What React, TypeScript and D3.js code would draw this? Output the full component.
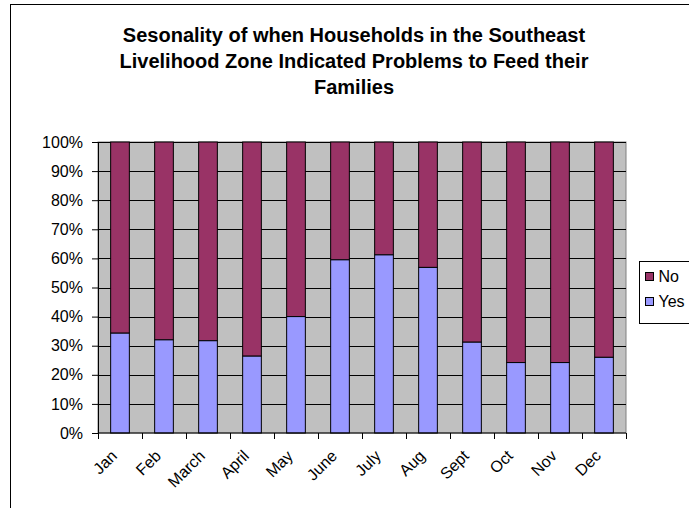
import React, { useEffect, useRef } from "react";
import * as d3 from "d3";

const months = ["Jan", "Feb", "March", "April", "May", "June", "July", "Aug", "Sept", "Oct", "Nov", "Dec"];
const yesValues = [34.3, 32.0, 31.7, 26.4, 40.0, 59.5, 61.2, 56.9, 31.2, 24.2, 24.2, 26.0];
const yTicks = [0, 10, 20, 30, 40, 50, 60, 70, 80, 90, 100];
const titleLines = [
  "Sesonality of when Households in the Southeast",
  "Livelihood Zone Indicated Problems to Feed their",
  "Families",
];
const legendItems = [
  { label: "No", color: "#993366" },
  { label: "Yes", color: "#9999FF" },
];

const font = "Arial, 'Liberation Sans', sans-serif";

export default function App() {
  const ref = useRef<SVGSVGElement>(null);

  useEffect(() => {
    const svg = d3.select(ref.current);
    svg.selectAll("*").remove();

    const width = 689;
    const height = 508;
    const margin = { top: 142, right: 63, bottom: 75, left: 98 };

    // outer chart frame (runs off the right/bottom edge)
    svg
      .append("rect")
      .attr("x", 10.5)
      .attr("y", 4.5)
      .attr("width", 720)
      .attr("height", 600)
      .attr("fill", "white")
      .attr("stroke", "black");

    const x = d3
      .scaleBand()
      .domain(months)
      .range([margin.left, width - margin.right])
      .paddingInner(0.575)
      .paddingOuter(0.2875);

    const y = d3
      .scaleLinear()
      .domain([0, 100])
      .range([height - margin.bottom, margin.top]);

    // plot background
    svg
      .append("rect")
      .attr("x", margin.left)
      .attr("y", margin.top)
      .attr("width", width - margin.right - margin.left)
      .attr("height", y(0) - margin.top)
      .attr("fill", "#C0C0C0")
      .attr("stroke", "#808080");

    // gridlines
    svg
      .append("g")
      .selectAll("line")
      .data(yTicks.slice(1))
      .join("line")
      .attr("x1", margin.left)
      .attr("x2", width - margin.right)
      .attr("y1", (d) => Math.round(y(d)) + 0.5)
      .attr("y2", (d) => Math.round(y(d)) + 0.5)
      .attr("stroke", "black");

    const data = months.map((m, i) => ({ month: m, yes: yesValues[i], no: 100 - yesValues[i] }));

    // No segment (top)
    svg
      .append("g")
      .selectAll("rect")
      .data(data)
      .join("rect")
      .attr("x", (d) => x(d.month)!)
      .attr("width", x.bandwidth())
      .attr("y", y(100))
      .attr("height", (d) => y(d.yes) - y(100))
      .attr("fill", "#993366")
      .attr("stroke", "black");

    // Yes segment (bottom)
    svg
      .append("g")
      .selectAll("rect")
      .data(data)
      .join("rect")
      .attr("x", (d) => x(d.month)!)
      .attr("width", x.bandwidth())
      .attr("y", (d) => y(d.yes))
      .attr("height", (d) => y(0) - y(d.yes))
      .attr("fill", "#9999FF")
      .attr("stroke", "black");

    // y axis
    const yAxis = svg
      .append("g")
      .attr("transform", `translate(${margin.left},0)`)
      .call(
        d3
          .axisLeft(y)
          .tickValues(yTicks)
          .tickSize(6)
          .tickPadding(9)
          .tickFormat((d) => `${d}%`)
      );
    yAxis.select(".domain").attr("stroke", "black");
    yAxis
      .selectAll("text")
      .attr("font-family", font)
      .attr("font-size", 16)
      .attr("fill", "black");

    // x axis: ticks at category boundaries
    const step = x.step();
    const boundaries = d3.range(months.length + 1).map((i) => margin.left + i * step);
    const xg = svg.append("g");
    xg.append("line")
      .attr("x1", margin.left)
      .attr("x2", width - margin.right)
      .attr("y1", y(0))
      .attr("y2", y(0))
      .attr("stroke", "black");
    xg.selectAll("line.tick")
      .data(boundaries)
      .join("line")
      .attr("class", "tick")
      .attr("x1", (d) => Math.round(d) + 0.5)
      .attr("x2", (d) => Math.round(d) + 0.5)
      .attr("y1", y(0))
      .attr("y2", y(0) + 6)
      .attr("stroke", "black");
    xg.selectAll("text")
      .data(months)
      .join("text")
      .attr("text-anchor", "end")
      .attr("font-family", font)
      .attr("font-size", 16)
      .attr("transform", (d) => {
        const cx = x(d)! + x.bandwidth() / 2 - 6;
        return `translate(${cx},${y(0) + 20}) rotate(-45)`;
      })
      .attr("dy", "0.35em")
      .text((d) => d);

    // title
    svg
      .append("g")
      .selectAll("text")
      .data(titleLines)
      .join("text")
      .attr("x", 354)
      .attr("y", (_, i) => 42 + i * 25.8)
      .attr("text-anchor", "middle")
      .attr("font-family", font)
      .attr("font-weight", "bold")
      .attr("font-size", 20)
      .text((d) => d);

    // legend
    const lg = svg.append("g").attr("transform", "translate(639.5,261.5)");
    lg.append("rect")
      .attr("width", 80)
      .attr("height", 62)
      .attr("fill", "white")
      .attr("stroke", "black");
    const items = lg
      .selectAll("g")
      .data(legendItems)
      .join("g")
      .attr("transform", (_, i) => `translate(6,${15 + i * 25})`);
    items
      .append("rect")
      .attr("y", -4)
      .attr("width", 8)
      .attr("height", 8)
      .attr("fill", (d) => d.color)
      .attr("stroke", "black");
    items
      .append("text")
      .attr("x", 13)
      .attr("dy", "0.35em")
      .attr("font-family", font)
      .attr("font-size", 16)
      .text((d) => d.label);
  }, []);

  return (
    <div style={{ position: "fixed", left: 0, top: 0 }}>
      <svg ref={ref} width={689} height={508} style={{ display: "block" }} />
    </div>
  );
}
